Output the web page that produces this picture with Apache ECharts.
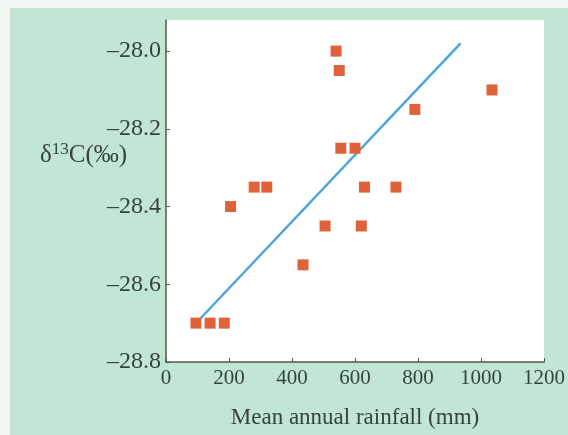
<!DOCTYPE html>
<html>
<head>
<meta charset="utf-8">
<script src="https://cdn.jsdelivr.net/npm/echarts@6/dist/echarts.min.js"></script>
<style>html,body{margin:0;padding:0;background:#f2f6f2;}#c{width:568px;height:435px;}</style>
</head>
<body>
<div id="c"></div>
<script>
const rainfall = [95, 140, 185, 205, 280, 320, 435, 505, 540, 550, 555, 600, 620, 630, 730, 790, 1035];
const delta13C = [-28.7, -28.7, -28.7, -28.4, -28.35, -28.35, -28.55, -28.45, -28.0, -28.05, -28.25, -28.25, -28.45, -28.35, -28.35, -28.15, -28.1];
const fitX = [107, 935];
const fitY = [-28.69, -27.98];
const yTicks = [-28.8, -28.6, -28.4, -28.2, -28.0];
const xTicks = [0, 200, 400, 600, 800, 1000, 1200];

const txt = '#34443b';
const font = 'Liberation Serif';
const chart = echarts.init(document.getElementById('c'));
chart.setOption({
  backgroundColor: '#f2f6f2',
  animation: false,
  graphic: [
    { type: 'rect', z: -10, shape: { x: 10, y: 8, width: 558, height: 427 }, style: { fill: '#c2e6d3' } },
    { type: 'text', left: 40, top: 141, style: {
        rich: {
          a: { fontFamily: font, fontSize: 25, fill: txt },
          s: { fontFamily: font, fontSize: 17, fill: txt, verticalAlign: 'top', padding: [0, 0, 11, 0] }
        },
        text: '{a|δ}{s|13}{a|C(‰)}'
    } }
  ],
  grid: { left: 166, right: 21, top: 20, bottom: 73, show: true, backgroundColor: '#ffffff', borderWidth: 0 },
  xAxis: {
    type: 'value', min: 0, max: 1200, interval: 200,
    name: 'Mean annual rainfall (mm)', nameLocation: 'middle', nameGap: 44,
    nameTextStyle: { fontFamily: font, fontSize: 23, color: txt },
    axisLine: { show: true, lineStyle: { color: '#555', width: 1.5 } },
    axisTick: { show: true, inside: true, length: 4, lineStyle: { color: '#555' } },
    axisLabel: { fontFamily: font, fontSize: 21, color: txt, margin: 6, customValues: xTicks,
      formatter: v => String(v) },
    splitLine: { show: false }
  },
  yAxis: {
    type: 'value', min: -28.8, max: -27.92,
    axisLine: { show: true, lineStyle: { color: '#555', width: 1.5 } },
    axisTick: { show: true, inside: true, length: 4, lineStyle: { color: '#555' }, customValues: yTicks },
    axisLabel: { fontFamily: font, fontSize: 24, color: txt, margin: 5, customValues: yTicks,
      formatter: v => v.toFixed(1).replace('-', '\u2013') },
    splitLine: { show: false }
  },
  series: [
    {
      type: 'line', data: fitX.map((x, i) => [x, fitY[i]]), symbol: 'none',
      lineStyle: { color: '#4ea5de', width: 2.5 }, z: 2
    },
    {
      type: 'scatter', data: rainfall.map((x, i) => [x, delta13C[i]]), symbol: 'rect', symbolSize: 11,
      itemStyle: { color: '#e0623a', opacity: 1 }, z: 3
    }
  ]
});
</script>
</body>
</html>
